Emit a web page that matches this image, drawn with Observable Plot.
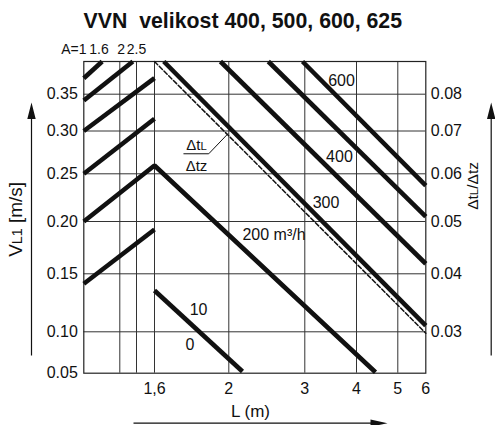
<!DOCTYPE html>
<html><head><meta charset="utf-8">
<script src="https://cdn.jsdelivr.net/npm/d3@7"></script>
<script src="https://cdn.jsdelivr.net/npm/@observablehq/plot@0.6"></script>
<style>body{margin:0;background:#fff;}</style>
</head><body><div id="chart"></div>
<script>
const title = "VVN  velikost 400, 500, 600, 625";
const xLabel = "L (m)";
const yLabel = "VL1 [m/s]";
const y2Label = "ΔtL/Δtz";

// non-uniform nomogram axes: anchor values of the piecewise scales
const xAnchors = [1, 1.3, 1.45, 1.6, 2, 3, 4, 5, 6];
const yAnchors = [0.05, 0.10, 0.15, 0.20, 0.25, 0.30, 0.35, 0.40];

const xTicks = [1.6, 2, 3, 4, 5, 6];
const xTickLabels = ["1,6", "2", "3", "4", "5", "6"];
const xGrid = [1.3, 1.45, 1.6, 2, 3, 4, 5];
const yTicks = [0.05, 0.10, 0.15, 0.20, 0.25, 0.30, 0.35];
const rightTicks = [0.03, 0.04, 0.05, 0.06, 0.07, 0.08];
const aLabels = ["A=1", "1.6", "2", "2.5"];
const aPos = [0.9175, 1.127, 1.311, 1.45];

// rising lines (left zone), start at left edge L=1
const riseV0 = [0.3745, 0.3414, 0.30, 0.25, 0.20, 0.1414];
const riseL1 = [1.153, 1.417, 1.6, 1.6, 1.6, 1.6];
const riseV1 = [0.40, 0.40, 0.3745, 0.3166, 0.2597, 0.1924];

// air-flow lines
const flows = ["200 m³/h", "300", "400", "500", "600"];
const flowL0 = [1.6, 1.65, 1.955, 2.52, 2.97];
const flowV0 = [0.2597, 0.40, 0.40, 0.40, 0.40];
const flowL1 = [4.46, 6, 6, 6, 6];
const flowV1 = [0.0512, 0.1054, 0.1596, 0.2052, 0.2377];
const flowLabelL = [2.595, 3.41, 3.67, null, 3.71];
const flowLabelV = [0.1869, 0.2194, 0.2702, null, 0.371];

// "10 / 0" line
const tenL = [1.6, 2.18];
const tenV = [0.1356, 0.052];
const tenLabels = ["10", "0"];
const tenLabelL = [1.837, 1.791];
const tenLabelV = [0.1192, 0.0847];

// dashed ΔtL/Δtz reference line
const ratioL = [1.6, 6];
const ratioV = [0.40, 0.0983];
const ratioLabels = ["ΔtL", "Δtz"];
const ratioLabelL = [1.826, 1.826];
const ratioLabelV = [0.283, 0.2591];
const leaderL = [1.758, 1.892, 1.995];
const leaderV = [0.2734, 0.2734, 0.2967];

// right axis ΔtL/Δtz is linked to left axis VL1
const toLeft = r => 0.10 + (r - 0.03) * 5;
const toRight = v => 0.03 + (v - 0.10) / 5;

// build line table
const rows = [];
riseV0.forEach((v, i) => {
  const z = i === 4 ? flows[0] : "rise" + i;
  rows.push({z, L: 1, V: v}, {z, L: riseL1[i], V: riseV1[i]});
});
flows.forEach((f, j) => {
  if (j > 0) rows.push({z: f, L: flowL0[j], V: flowV0[j]});
  rows.push({z: f, L: flowL1[j], V: flowV1[j]});
});
tenL.forEach((l, i) => rows.push({z: "10", L: l, V: tenV[i]}));

const flowLabelRows = flows.map((f, j) => ({t: f, L: flowLabelL[j], V: flowLabelV[j]})).filter(d => d.L != null);

const upArrow = {draw(ctx) {
  ctx.moveTo(0, -126.5); ctx.lineTo(4.2, -110); ctx.lineTo(0.6, -110); ctx.lineTo(0.6, 126.5);
  ctx.lineTo(-0.6, 126.5); ctx.lineTo(-0.6, -110); ctx.lineTo(-4.2, -110); ctx.closePath();
}};
const rightArrow = {draw(ctx) {
  ctx.moveTo(127, 0); ctx.lineTo(110, -3.6); ctx.lineTo(110, -0.6); ctx.lineTo(-127, -0.6);
  ctx.lineTo(-127, 0.6); ctx.lineTo(110, 0.6); ctx.lineTo(110, 3.6); ctx.closePath();
}};

const ink = "#111";
const mid = {textAnchor: "middle", lineAnchor: "middle"};
const chart = Plot.plot({
  width: 495, height: 425,
  marginLeft: 83.3, marginRight: 69.7, marginTop: 61, marginBottom: 52.3,
  style: {fontFamily: "'Liberation Sans', Arial, sans-serif", fontSize: "16px", background: "#fff", color: ink},
  x: {type: "linear", domain: xAnchors, range: [83.3, 119.3, 136, 154, 228.3, 304.3, 356, 397.3, 425.3]},
  y: {type: "linear", domain: yAnchors, range: [372.7, 331.3, 273.3, 221, 173.3, 130.5, 93.7, 61]},
  marks: [
    Plot.gridX(xGrid, {stroke: "#333", strokeOpacity: 1, strokeWidth: 1}),
    Plot.gridY(yTicks.slice(1), {stroke: "#333", strokeOpacity: 1, strokeWidth: 1}),
    Plot.frame({stroke: "#222", strokeWidth: 1.2}),
    Plot.axisY({anchor: "left", ticks: yTicks, tickFormat: d => d.toFixed(2), tickSize: 0, tickPadding: 6, label: null, fontSize: 16}),
    Plot.axisY({anchor: "right", ticks: rightTicks.map(toLeft), tickFormat: d => toRight(d).toFixed(2), tickSize: 0, tickPadding: 5, label: null, fontSize: 16}),
    Plot.axisX({ticks: xTicks, tickFormat: d => xTickLabels[xTicks.indexOf(d)], tickSize: 0, tickPadding: 9, label: null, fontSize: 16}),
    Plot.line(ratioL.map((l, i) => ({L: l, V: ratioV[i]})), {x: "L", y: "V", stroke: ink, strokeWidth: 1.5, strokeDasharray: "4.5,2.2"}),
    Plot.line(rows, {x: "L", y: "V", z: "z", stroke: ink, strokeWidth: 4.6, strokeLinecap: "butt", strokeLinejoin: "miter"}),
    Plot.line(leaderL.map((l, i) => ({L: l, V: leaderV[i]})), {x: "L", y: "V", stroke: ink, strokeWidth: 1}),
    Plot.text(ratioLabels, {x: (d, i) => ratioLabelL[i], y: (d, i) => ratioLabelV[i], text: d => d, fontSize: 15, ...mid}),
    Plot.text(flowLabelRows, {x: "L", y: "V", text: "t", fontSize: 16, ...mid}),
    Plot.text(tenLabels, {x: (d, i) => tenLabelL[i], y: (d, i) => tenLabelV[i], text: d => d, fontSize: 16, ...mid}),
    Plot.text(aLabels, {x: (d, i) => aPos[i], frameAnchor: "top", dy: -11.5, text: d => d, fontSize: 14, ...mid}),
    Plot.text([title], {frameAnchor: "top", dx: -12, dy: -40.5, text: d => d, fontSize: 21.3, fontWeight: "bold", ...mid}),
    Plot.text([yLabel], {frameAnchor: "left", dx: -68, dy: 2, rotate: -90, text: d => d, fontSize: 19, ...mid}),
    Plot.text([y2Label], {frameAnchor: "right", dx: 47.7, dy: -31.4, rotate: -90, text: d => d, fontSize: 15.5, ...mid}),
    Plot.text([xLabel], {frameAnchor: "bottom", dx: -4.3, dy: 38.3, text: d => d, fontSize: 17, ...mid}),
    Plot.dot([0], {frameAnchor: "left", dx: -52.3, dy: 11.6, symbol: upArrow, fill: ink}),
    Plot.dot([0], {frameAnchor: "right", dx: 65.4, dy: 11.6, symbol: upArrow, fill: ink}),
    Plot.dot([0], {frameAnchor: "bottom", dx: 5.7, dy: 50, symbol: rightArrow, fill: ink})
  ]
});

// small-capital subscripts in labels
const rich = {
  "VL1 [m/s]": [["V"], ["L1", true], [" [m/s]"]],
  "ΔtL/Δtz": [["Δt"], ["L", true], ["/Δtz"]],
  "ΔtL": [["Δt"], ["L", true]]
};
chart.querySelectorAll("text").forEach(t => {
  const parts = rich[t.textContent];
  if (!parts) return;
  t.textContent = "";
  parts.forEach(([s, small]) => {
    const ts = document.createElementNS("http://www.w3.org/2000/svg", "tspan");
    ts.textContent = s;
    if (small) ts.setAttribute("font-size", "0.75em");
    t.appendChild(ts);
  });
});
document.getElementById("chart").appendChild(chart);
</script>
</body></html>
